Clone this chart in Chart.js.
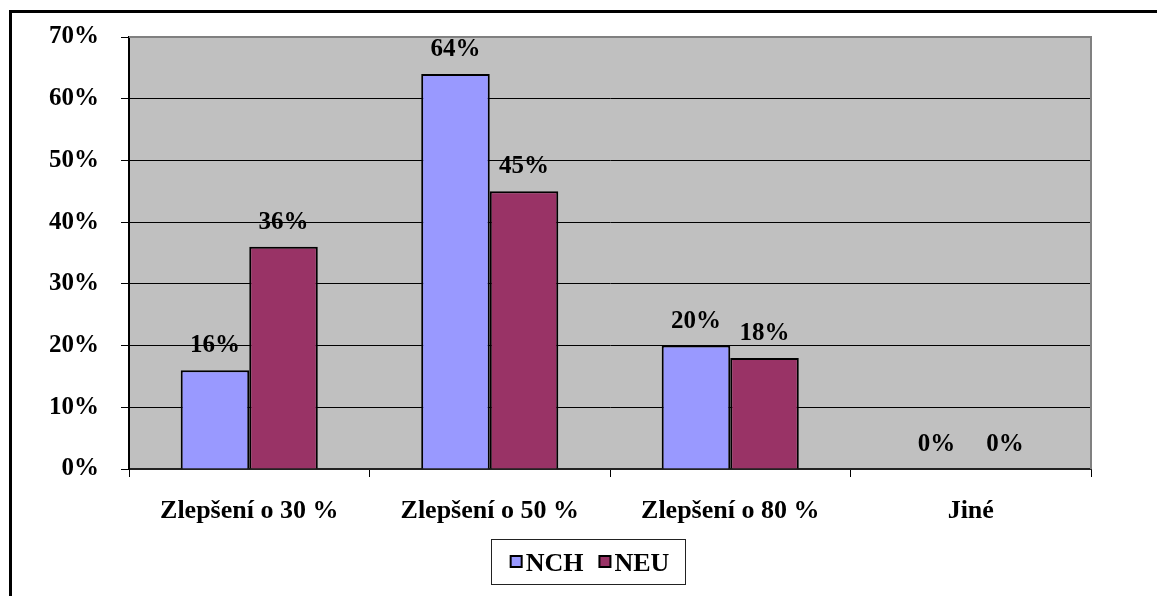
<!DOCTYPE html>
<html>
<head>
<meta charset="utf-8">
<script src="https://cdn.jsdelivr.net/npm/chart.js@4.4.0/dist/chart.umd.min.js"></script>
<style>
  html, body { margin: 0; padding: 0; background: #fff; }
  #wrap { position: relative; width: 1157px; height: 596px; }
</style>
</head>
<body>
<div id="wrap"><canvas id="c" width="1157" height="596"></canvas></div>
<script>
// Survey results: expected improvement per group
const categories = ['Zlepšení o 30 %', 'Zlepšení o 50 %', 'Zlepšení o 80 %', 'Jiné'];
const seriesNames = ['NCH', 'NEU'];
const nchValues = [16, 64, 20, 0];
const neuValues = [36, 45, 18, 0];
const yTicks = [0, 10, 20, 30, 40, 50, 60, 70];

const SERIF = "'Liberation Serif', 'Times New Roman', serif";
const COLORS = ['#9999FF', '#993366'];

// Gray plot background and frame
const plotFrame = {
  id: 'plotFrame',
  beforeDraw(chart) {
    const { ctx, chartArea: a } = chart;
    ctx.save();
    ctx.fillStyle = '#C0C0C0';
    ctx.fillRect(a.left, a.top, a.right - a.left, a.bottom - a.top);
    ctx.restore();
  },
  beforeDatasetsDraw(chart) {
    const { ctx, chartArea: a } = chart;
    ctx.save();
    ctx.strokeStyle = '#808080';
    ctx.lineWidth = 2;
    ctx.beginPath();
    ctx.moveTo(a.left, a.top);
    ctx.lineTo(a.right, a.top);
    ctx.lineTo(a.right, a.bottom);
    ctx.stroke();
    ctx.restore();
  }
};

// Percentage labels above each bar
const valueLabels = {
  id: 'valueLabels',
  afterDatasetsDraw(chart) {
    const { ctx } = chart;
    ctx.save();
    ctx.font = 'bold 25px ' + SERIF;
    ctx.fillStyle = '#000';
    ctx.textAlign = 'center';
    ctx.textBaseline = 'alphabetic';
    chart.data.datasets.forEach((ds, di) => {
      const meta = chart.getDatasetMeta(di);
      meta.data.forEach((bar, i) => {
        ctx.fillText(ds.data[i] + '%', bar.x, bar.y - 18);
      });
    });
    ctx.restore();
  }
};

// Framed legend below the axis, plus the outer chart border
const boxedLegend = {
  id: 'boxedLegend',
  afterDraw(chart) {
    const { ctx } = chart;
    ctx.save();
    // outer border
    ctx.fillStyle = '#000';
    ctx.fillRect(9, 10, chart.width - 9, 3);
    ctx.fillRect(9, 10, 3, chart.height - 10);

    // legend frame
    const fx = 491, fy = 539, fw = 194, fh = 45;
    ctx.strokeStyle = '#222';
    ctx.lineWidth = 1;
    ctx.strokeRect(fx + 0.5, fy + 0.5, fw, fh);

    ctx.font = 'bold 26px ' + SERIF;
    ctx.textBaseline = 'alphabetic';
    ctx.textAlign = 'left';
    const sq = 11, gapBox = 4, gapItem = 16;
    const items = chart.data.datasets.map(ds => ({
      text: ds.label, color: ds.backgroundColor, w: ctx.measureText(ds.label).width
    }));
    const total = items.reduce((s, it) => s + sq + gapBox + it.w, 0) + gapItem * (items.length - 1);
    let x = fx + (fw - total) / 2 + 2;
    const cy = fy + fh / 2;
    items.forEach(it => {
      ctx.fillStyle = it.color;
      ctx.fillRect(x, cy - sq / 2, sq, sq);
      ctx.strokeStyle = '#000';
      ctx.lineWidth = 2;
      ctx.strokeRect(x, cy - sq / 2, sq, sq);
      ctx.fillStyle = '#000';
      ctx.fillText(it.text, x + sq + gapBox, cy + 9);
      x += sq + gapBox + it.w + gapItem;
    });
    ctx.restore();
  }
};

new Chart(document.getElementById('c'), {
  type: 'bar',
  data: {
    labels: categories,
    datasets: [
      { label: seriesNames[0], data: nchValues, backgroundColor: COLORS[0],
        borderColor: '#000', borderWidth: 2 },
      { label: seriesNames[1], data: neuValues, backgroundColor: COLORS[1],
        borderColor: '#000', borderWidth: 2 }
    ]
  },
  options: {
    responsive: false,
    animation: false,
    devicePixelRatio: 1,
    layout: { padding: { left: 0, right: 66, top: 34, bottom: 67 } },
    datasets: { bar: { categoryPercentage: 0.57, barPercentage: 1 } },
    plugins: {
      legend: { display: false },
      tooltip: { enabled: false }
    },
    scales: {
      x: {
        grid: { offset: true, drawOnChartArea: false, drawTicks: true, tickLength: 8,
                color: '#000', lineWidth: 1 },
        border: { display: true, color: '#222', width: 2 },
        ticks: { color: '#000', padding: 19, maxRotation: 0,
                 font: { family: SERIF, size: 26, weight: 'bold' } },
        afterFit(scale) { scale.height = 60; }
      },
      y: {
        min: 0,
        max: 70,
        afterBuildTicks(scale) { scale.ticks = yTicks.map(v => ({ value: v })); },
        grid: { color: '#000', lineWidth: 1, drawTicks: true, tickLength: 8 },
        border: { display: true, color: '#000', width: 2 },
        ticks: { color: '#000', padding: 22, callback: v => v + '%',
                 font: { family: SERIF, size: 25, weight: 'bold' } },
        afterFit(scale) { scale.width = 129; }
      }
    }
  },
  plugins: [plotFrame, valueLabels, boxedLegend]
});
</script>
</body>
</html>
